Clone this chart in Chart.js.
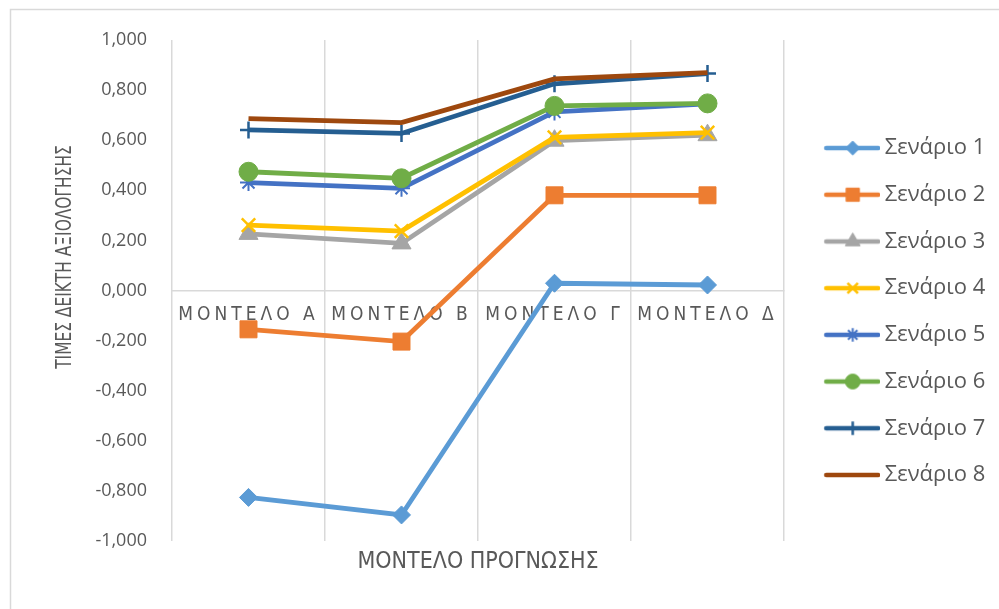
<!DOCTYPE html>
<html>
<head>
<meta charset="utf-8">
<script src="https://cdn.jsdelivr.net/npm/chart.js@4.4.1/dist/chart.umd.min.js"></script>
<style>
  html, body { margin: 0; padding: 0; background: #ffffff; }
  #wrap { width: 999px; height: 609px; }
</style>
</head>
<body>
<div id="wrap"><canvas id="chart" width="999" height="609"></canvas></div>
<script>
// Forecasting models on the category axis
const categories = ['ΜΟΝΤΕΛΟ Α', 'ΜΟΝΤΕΛΟ Β', 'ΜΟΝΤΕΛΟ Γ', 'ΜΟΝΤΕΛΟ Δ'];

// Scenario names shown in the legend
const scenarioNames = ['Σενάριο 1', 'Σενάριο 2', 'Σενάριο 3', 'Σενάριο 4',
                       'Σενάριο 5', 'Σενάριο 6', 'Σενάριο 7', 'Σενάριο 8'];

// Evaluation index per scenario and model
const scenario1 = [-0.826, -0.896, 0.029, 0.022];
const scenario2 = [-0.155, -0.204, 0.380, 0.380];
const scenario3 = [0.226, 0.188, 0.598, 0.620];
const scenario4 = [0.261, 0.237, 0.611, 0.630];
const scenario5 = [0.431, 0.408, 0.713, 0.745];
const scenario6 = [0.474, 0.448, 0.737, 0.747];
const scenario7 = [0.641, 0.627, 0.825, 0.866];
const scenario8 = [0.686, 0.670, 0.845, 0.870];

// Value axis range and tick step
const yMin = -1;
const yMax = 1;
const yStep = 0.2;

const axisTitleX = 'ΜΟΝΤΕΛΟ ΠΡΟΓΝΩΣΗΣ';
const axisTitleY = 'ΤΙΜΕΣ ΔΕΙΚΤΗ ΑΞΙΟΛΟΓΗΣΗΣ';

const seriesValues = [scenario1, scenario2, scenario3, scenario4,
                      scenario5, scenario6, scenario7, scenario8];

// Styling
const palette = ['#5B9BD5', '#ED7D31', '#A5A5A5', '#FFC000',
                 '#4472C4', '#70AD47', '#255E91', '#9E480E'];
const markerStyles = ['rectRot', 'rect', 'triangle', 'crossRot', 'star', 'circle', 'cross', 'circle'];
const markerRadius = [9, 12, 11, 9.5, 8.5, 9.5, 8.5, 0];
const markerBorder = [1, 1, 1, 2.5, 2, 1, 2.5, 0];
const textGrey = '#595959';
const gridGrey = '#d9d9d9';
const SANS = "'Open Sans', 'Noto Sans', sans-serif";
const NARROW = "'DejaVu Sans Condensed', 'Liberation Sans', sans-serif";

// Legend icons: a short line with the series marker on it
function legendIcon(i) {
  const c = document.createElement('canvas');
  c.width = 78; c.height = 26;
  const g = c.getContext('2d');
  g.strokeStyle = palette[i];
  g.lineWidth = 4.5;
  g.lineCap = 'round';
  g.beginPath();
  g.moveTo(24, 13);
  g.lineTo(76, 13);
  g.stroke();
  if (markerRadius[i] > 0) {
    g.fillStyle = palette[i];
    g.strokeStyle = palette[i];
    g.lineWidth = markerBorder[i];
    g.lineCap = 'butt';
    const r = markerRadius[i] * 0.78;
    if (Chart.helpers && Chart.helpers.drawPoint) {
      Chart.helpers.drawPoint(g, {pointStyle: markerStyles[i], radius: r, borderWidth: markerBorder[i], rotation: 0}, 50.5, 13);
    } else {
      g.beginPath(); g.arc(50.5, 13, r, 0, Math.PI * 2); g.fill();
    }
  }
  return c;
}
const legendIcons = palette.map((_, i) => legendIcon(i));

const datasets = seriesValues.map((vals, i) => ({
  label: scenarioNames[i],
  data: vals,
  borderColor: palette[i],
  backgroundColor: palette[i],
  borderWidth: 4.8,
  tension: 0,
  pointStyle: markerStyles[i],
  pointRadius: markerRadius[i],
  pointHoverRadius: markerRadius[i],
  pointBorderWidth: markerBorder[i],
  pointBackgroundColor: palette[i],
  pointBorderColor: palette[i],
  order: seriesValues.length - i
}));

// White background and the outer frame of the chart object
const frame = {
  id: 'frame',
  beforeDraw(chart) {
    const ctx = chart.ctx;
    ctx.save();
    ctx.fillStyle = '#ffffff';
    ctx.fillRect(0, 0, chart.width, chart.height);
    ctx.strokeStyle = gridGrey;
    ctx.lineWidth = 1.5;
    ctx.strokeRect(10.5, 9.5, chart.width + 20, chart.height + 20);
    ctx.restore();
  }
};

// Category labels are drawn with wide letter spacing
const spacedLabels = {
  id: 'spacedLabels',
  afterLayout(chart) {
    const sc = chart.scales.x;
    if (sc && !sc.__spaced) {
      const base = sc.drawLabels;
      sc.drawLabels = function (area) {
        const ctx = this.ctx;
        const prev = ctx.letterSpacing;
        ctx.letterSpacing = '4px';
        base.call(this, area);
        ctx.letterSpacing = prev || '0px';
      };
      sc.__spaced = true;
    }
  }
};

// Rotated value-axis title, set in a compressed face
const yTitle = {
  id: 'yTitle',
  afterDraw(chart) {
    const ctx = chart.ctx;
    ctx.save();
    ctx.translate(65, 257);
    ctx.rotate(-Math.PI / 2);
    ctx.scale(0.78, 1);
    ctx.font = '22px ' + NARROW;
    ctx.fillStyle = textGrey;
    ctx.textAlign = 'center';
    ctx.textBaseline = 'middle';
    ctx.fillText(axisTitleY, 0, 0);
    ctx.restore();
  }
};

new Chart(document.getElementById('chart'), {
  type: 'line',
  data: { labels: categories, datasets },
  plugins: [frame, spacedLabels, yTitle],
  options: {
    responsive: false,
    animation: false,
    devicePixelRatio: 1,
    layout: { padding: { left: 0, top: 40, right: 10, bottom: 26 } },
    scales: {
      x: {
        type: 'category',
        position: { y: 0 },
        offset: true,
        grid: { offset: true, color: gridGrey, lineWidth: 1.5, drawTicks: false },
        border: { display: true, color: gridGrey, width: 1.5 },
        ticks: {
          font: { family: NARROW, size: 19 },
          color: textGrey,
          padding: 13,
          maxRotation: 0,
          autoSkip: false
        }
      },
      x2: {
        type: 'category',
        labels: categories,
        position: 'bottom',
        offset: true,
        grid: { display: false },
        border: { display: false },
        ticks: { display: false },
        title: {
          display: true,
          text: axisTitleX,
          color: textGrey,
          font: { family: NARROW, size: 23 },
          padding: { top: 0, bottom: 7 }
        },
        afterFit(scale) { scale.height = 42; }
      },
      y: {
        min: yMin,
        max: yMax,
        grid: { display: false, drawTicks: false },
        border: { display: false },
        ticks: {
          stepSize: yStep,
          padding: 25,
          color: textGrey,
          font: { family: SANS, size: 18 },
          callback(v) {
            const n = Math.abs(v) < 1e-9 ? 0 : v;
            return n.toFixed(3).replace('.', ',');
          }
        },
        afterFit(scale) { scale.width = 172; }
      }
    },
    plugins: {
      tooltip: { enabled: false },
      legend: {
        position: 'right',
        maxWidth: 205,
        labels: {
          usePointStyle: true,
          pointStyleWidth: 65,
          padding: 24.7,
          color: textGrey,
          font: { family: SANS, size: 22 },
          generateLabels(chart) {
            return chart.data.datasets.map((ds, i) => ({
              text: ds.label,
              fillStyle: palette[i],
              strokeStyle: palette[i],
              lineWidth: 0,
              pointStyle: legendIcons[i],
              fontColor: textGrey,
              hidden: false,
              datasetIndex: i
            }));
          }
        }
      }
    }
  }
});
</script>
</body>
</html>
